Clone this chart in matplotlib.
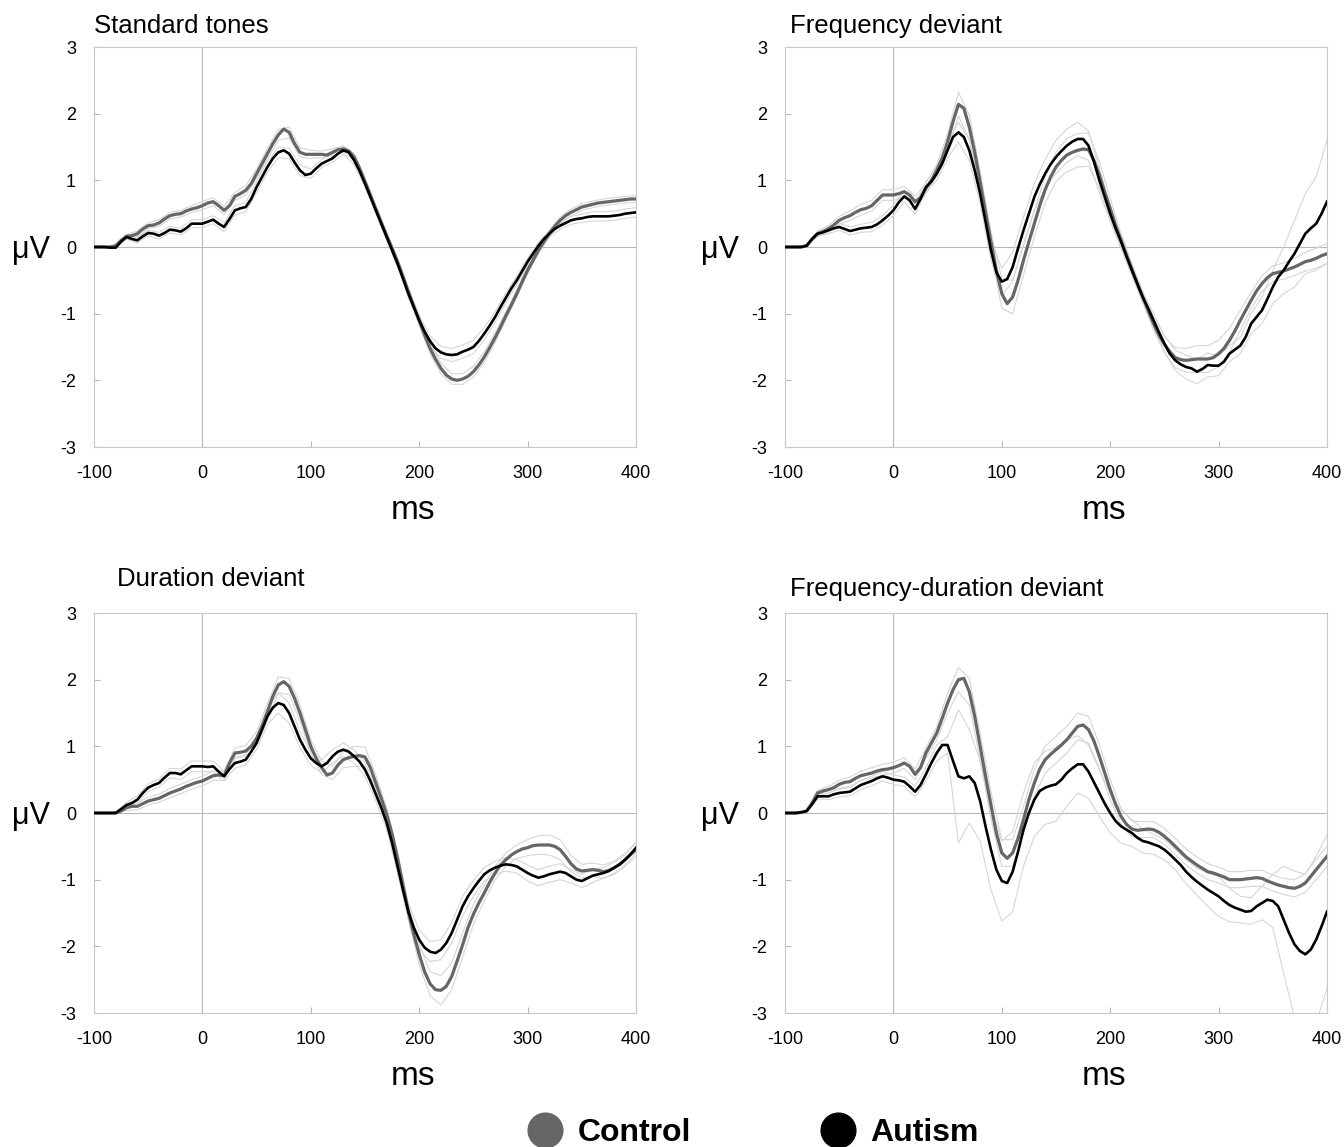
import numpy as np
import matplotlib.pyplot as plt
from matplotlib.lines import Line2D

plt.rcParams['font.family'] = ['Liberation Sans', 'DejaVu Sans']
plt.rcParams['axes.unicode_minus'] = False

# time axis (ms): means every 5 ms, standard errors every 10 ms
t = np.arange(-100, 401, 5)
t_se = np.arange(-100, 401, 10)

# --- Standard tones (rows of 50 ms)
std_control = [0, 0, 0, 0, 0.02, 0.1, 0.16, 0.17, 0.2, 0.27,
               0.32, 0.33, 0.36, 0.42, 0.47, 0.49, 0.5, 0.54, 0.57, 0.59,
               0.62, 0.66, 0.68, 0.62, 0.55, 0.62, 0.76, 0.8, 0.85, 0.95,
               1.1, 1.25, 1.4, 1.55, 1.68, 1.77, 1.72, 1.55, 1.42, 1.39,
               1.39, 1.39, 1.39, 1.38, 1.42, 1.46, 1.47, 1.44, 1.35, 1.18,
               0.98, 0.78, 0.57, 0.37, 0.17, -0.02, -0.22, -0.44, -0.67, -0.89,
               -1.1, -1.32, -1.52, -1.68, -1.82, -1.92, -1.98, -2.0, -1.98, -1.94,
               -1.87, -1.77, -1.65, -1.51, -1.36, -1.2, -1.03, -0.87, -0.7, -0.52,
               -0.35, -0.2, -0.05, 0.08, 0.2, 0.31, 0.4, 0.47, 0.52, 0.56,
               0.6, 0.62, 0.64, 0.66, 0.67, 0.68, 0.69, 0.7, 0.71, 0.72,
               0.72]
std_control_se = [0, 0, 0, 0.03, 0.04, 0.04, 0.05, 0.05, 0.05, 0.05,
                  0.06, 0.06, 0.06, 0.06, 0.07, 0.07, 0.08, 0.08, 0.08, 0.07,
                  0.06, 0.05, 0.05, 0.05, 0.05, 0.05, 0.05, 0.05, 0.05, 0.06,
                  0.07, 0.08, 0.08, 0.08, 0.08, 0.08, 0.08, 0.07, 0.06, 0.05,
                  0.05, 0.05, 0.05, 0.05, 0.05, 0.05, 0.05, 0.05, 0.05, 0.05, 0.05]
std_autism = [0, 0, 0, -0.01, -0.01, 0.08, 0.15, 0.12, 0.1, 0.16,
              0.21, 0.2, 0.17, 0.21, 0.26, 0.25, 0.23, 0.28, 0.35, 0.35,
              0.35, 0.38, 0.41, 0.35, 0.3, 0.42, 0.55, 0.58, 0.6, 0.72,
              0.9, 1.05, 1.2, 1.33, 1.42, 1.45, 1.4, 1.27, 1.15, 1.08,
              1.1, 1.18, 1.25, 1.29, 1.33, 1.4, 1.45, 1.42, 1.3, 1.14,
              0.95, 0.75, 0.55, 0.35, 0.15, -0.05, -0.25, -0.47, -0.7, -0.9,
              -1.1, -1.27, -1.41, -1.52, -1.58, -1.61, -1.62, -1.61, -1.57, -1.54,
              -1.5, -1.41, -1.3, -1.18, -1.05, -0.9, -0.76, -0.62, -0.5, -0.36,
              -0.22, -0.1, 0.02, 0.12, 0.2, 0.27, 0.32, 0.36, 0.4, 0.42,
              0.43, 0.45, 0.46, 0.46, 0.46, 0.46, 0.47, 0.48, 0.5, 0.51,
              0.52]
std_autism_se = [0, 0, 0, 0.03, 0.04, 0.04, 0.05, 0.05, 0.05, 0.06,
                 0.06, 0.06, 0.07, 0.07, 0.07, 0.08, 0.08, 0.08, 0.08, 0.08,
                 0.07, 0.06, 0.06, 0.06, 0.06, 0.05, 0.05, 0.05, 0.05, 0.06,
                 0.07, 0.08, 0.09, 0.1, 0.1, 0.1, 0.09, 0.08, 0.07, 0.06,
                 0.05, 0.05, 0.05, 0.05, 0.06, 0.06, 0.07, 0.07, 0.07, 0.07, 0.07]

# --- Frequency deviant
freq_control = [0, 0, 0, 0, 0.02, 0.12, 0.2, 0.23, 0.27, 0.33,
                0.4, 0.44, 0.47, 0.52, 0.56, 0.58, 0.62, 0.7, 0.78, 0.78,
                0.78, 0.8, 0.83, 0.78, 0.68, 0.74, 0.88, 1.0, 1.15, 1.33,
                1.58, 1.88, 2.14, 2.08, 1.8, 1.42, 0.98, 0.52, 0.08, -0.35,
                -0.7, -0.85, -0.75, -0.5, -0.2, 0.08, 0.35, 0.62, 0.86, 1.05,
                1.2, 1.3, 1.38, 1.42, 1.45, 1.47, 1.46, 1.3, 1.08, 0.82,
                0.58, 0.32, 0.1, -0.12, -0.33, -0.55, -0.75, -0.95, -1.15, -1.32,
                -1.46, -1.57, -1.66, -1.69, -1.7, -1.69, -1.68, -1.68, -1.68, -1.66,
                -1.6, -1.52, -1.4, -1.26, -1.1, -0.95, -0.8, -0.66, -0.55, -0.46,
                -0.4, -0.38, -0.36, -0.33, -0.3, -0.26, -0.22, -0.2, -0.17, -0.13,
                -0.1]
freq_control_se = [0, 0, 0, 0.04, 0.05, 0.06, 0.07, 0.08, 0.08, 0.08,
                   0.08, 0.08, 0.08, 0.08, 0.09, 0.12, 0.18, 0.18, 0.15, 0.15,
                   0.22, 0.25, 0.22, 0.2, 0.2, 0.22, 0.25, 0.25, 0.25, 0.2,
                   0.15, 0.1, 0.08, 0.08, 0.1, 0.12, 0.15, 0.18, 0.2, 0.2,
                   0.2, 0.18, 0.15, 0.12, 0.12, 0.12, 0.12, 0.13, 0.14, 0.15, 0.15]
freq_autism = [0, 0, 0, 0, 0.02, 0.12, 0.2, 0.22, 0.25, 0.28,
               0.3, 0.27, 0.24, 0.26, 0.28, 0.29, 0.3, 0.34, 0.4, 0.47,
               0.55, 0.67, 0.76, 0.7, 0.57, 0.72, 0.9, 0.98, 1.1, 1.25,
               1.45, 1.65, 1.72, 1.65, 1.45, 1.15, 0.8, 0.38, -0.05, -0.38,
               -0.52, -0.48, -0.3, -0.02, 0.25, 0.5, 0.75, 0.94, 1.1, 1.24,
               1.35, 1.44, 1.52, 1.58, 1.62, 1.62, 1.52, 1.28, 1.0, 0.75,
               0.5, 0.28, 0.08, -0.14, -0.35, -0.55, -0.75, -0.92, -1.1, -1.28,
               -1.45, -1.6, -1.7, -1.76, -1.8, -1.82, -1.87, -1.83, -1.77, -1.78,
               -1.78, -1.72, -1.6, -1.54, -1.48, -1.35, -1.15, -1.05, -0.95, -0.78,
               -0.6, -0.45, -0.35, -0.22, -0.1, 0.05, 0.2, 0.28, 0.35, 0.5,
               0.68]
freq_autism_se = [0, 0, 0, 0.04, 0.05, 0.05, 0.06, 0.06, 0.07, 0.07,
                  0.08, 0.08, 0.08, 0.08, 0.1, 0.12, 0.15, 0.15, 0.15, 0.15,
                  0.2, 0.22, 0.2, 0.2, 0.22, 0.25, 0.25, 0.25, 0.22, 0.18,
                  0.12, 0.1, 0.08, 0.08, 0.1, 0.12, 0.15, 0.18, 0.18, 0.18,
                  0.15, 0.12, 0.12, 0.15, 0.2, 0.25, 0.35, 0.5, 0.6, 0.7, 0.92]

# --- Duration deviant
dur_control = [0, 0, 0, 0, 0, 0.03, 0.08, 0.1, 0.1, 0.14,
               0.18, 0.2, 0.22, 0.26, 0.3, 0.33, 0.36, 0.4, 0.43, 0.46,
               0.48, 0.52, 0.56, 0.57, 0.56, 0.75, 0.9, 0.91, 0.93, 1.0,
               1.12, 1.3, 1.52, 1.75, 1.92, 1.97, 1.9, 1.72, 1.5, 1.25,
               1.0, 0.82, 0.68, 0.57, 0.6, 0.72, 0.8, 0.83, 0.85, 0.86,
               0.84, 0.68, 0.45, 0.22, -0.02, -0.32, -0.68, -1.08, -1.48, -1.82,
               -2.12, -2.38, -2.56, -2.65, -2.66, -2.6, -2.45, -2.22, -1.98, -1.72,
               -1.52, -1.35, -1.2, -1.04, -0.9, -0.78, -0.7, -0.63, -0.58, -0.54,
               -0.52, -0.49, -0.48, -0.48, -0.48, -0.5, -0.55, -0.65, -0.76, -0.84,
               -0.87, -0.86, -0.85, -0.86, -0.88, -0.86, -0.82, -0.77, -0.7, -0.62,
               -0.55]
dur_control_se = [0, 0, 0, 0.04, 0.05, 0.06, 0.06, 0.07, 0.07, 0.07,
                  0.07, 0.07, 0.07, 0.08, 0.08, 0.1, 0.12, 0.12, 0.12, 0.12,
                  0.1, 0.1, 0.1, 0.12, 0.15, 0.15, 0.12, 0.1, 0.1, 0.12,
                  0.15, 0.18, 0.22, 0.2, 0.18, 0.15, 0.12, 0.1, 0.1, 0.1,
                  0.12, 0.14, 0.15, 0.15, 0.12, 0.1, 0.1, 0.1, 0.1, 0.1, 0.1]
dur_autism = [0, 0, 0, 0, 0, 0.06, 0.12, 0.15, 0.2, 0.3,
              0.38, 0.42, 0.45, 0.53, 0.6, 0.6, 0.58, 0.64, 0.7, 0.7,
              0.7, 0.69, 0.7, 0.62, 0.55, 0.66, 0.75, 0.77, 0.8, 0.92,
              1.05, 1.25, 1.45, 1.58, 1.65, 1.62, 1.5, 1.3, 1.1, 0.95,
              0.82, 0.75, 0.7, 0.75, 0.85, 0.92, 0.95, 0.92, 0.85, 0.77,
              0.65, 0.48, 0.28, 0.08, -0.15, -0.45, -0.8, -1.15, -1.48, -1.72,
              -1.9, -2.02, -2.08, -2.1, -2.05, -1.95, -1.8, -1.6, -1.4, -1.25,
              -1.13, -1.02, -0.92, -0.86, -0.82, -0.79, -0.77, -0.78, -0.8, -0.85,
              -0.9, -0.94, -0.97, -0.95, -0.92, -0.9, -0.88, -0.9, -0.95, -1.0,
              -1.02, -0.98, -0.94, -0.92, -0.9, -0.87, -0.82, -0.77, -0.7, -0.62,
              -0.52]
dur_autism_se = [0, 0, 0, 0.04, 0.05, 0.06, 0.06, 0.07, 0.08, 0.08,
                 0.08, 0.08, 0.07, 0.08, 0.08, 0.1, 0.12, 0.15, 0.15, 0.12,
                 0.1, 0.1, 0.1, 0.1, 0.1, 0.1, 0.1, 0.1, 0.1, 0.12,
                 0.14, 0.15, 0.15, 0.15, 0.15, 0.12, 0.1, 0.1, 0.1, 0.1,
                 0.12, 0.12, 0.12, 0.12, 0.1, 0.1, 0.1, 0.08, 0.08, 0.08, 0.08]

# --- Frequency-duration deviant
fd_control = [0, 0, 0, 0.01, 0.03, 0.15, 0.3, 0.33, 0.35, 0.38,
              0.43, 0.46, 0.47, 0.52, 0.56, 0.58, 0.6, 0.63, 0.65, 0.66,
              0.68, 0.71, 0.75, 0.7, 0.58, 0.68, 0.9, 1.05, 1.2, 1.42,
              1.65, 1.85, 2.0, 2.02, 1.82, 1.45, 1.0, 0.55, 0.12, -0.3,
              -0.6, -0.68, -0.6, -0.38, -0.1, 0.2, 0.45, 0.66, 0.8, 0.88,
              0.95, 1.02, 1.1, 1.2, 1.3, 1.32, 1.25, 1.08, 0.85, 0.6,
              0.35, 0.13, -0.05, -0.17, -0.24, -0.26, -0.25, -0.24, -0.25, -0.29,
              -0.35, -0.42, -0.5, -0.58, -0.66, -0.72, -0.78, -0.83, -0.88, -0.9,
              -0.93, -0.96, -1.0, -1.0, -1.0, -0.99, -0.98, -0.97, -0.98, -1.02,
              -1.05, -1.08, -1.1, -1.12, -1.13, -1.1, -1.05, -0.95, -0.85, -0.75,
              -0.65]
fd_control_se = [0, 0, 0, 0.04, 0.05, 0.06, 0.07, 0.07, 0.08, 0.08,
                 0.08, 0.08, 0.08, 0.08, 0.1, 0.15, 0.18, 0.2, 0.2, 0.2,
                 0.2, 0.2, 0.2, 0.2, 0.2, 0.2, 0.2, 0.2, 0.2, 0.18,
                 0.15, 0.12, 0.12, 0.12, 0.12, 0.12, 0.12, 0.12, 0.12, 0.12,
                 0.12, 0.12, 0.12, 0.12, 0.12, 0.12, 0.12, 0.13, 0.14, 0.15, 0.15]
fd_autism = [0, 0, 0, 0.01, 0.03, 0.13, 0.25, 0.25, 0.25, 0.28,
             0.3, 0.31, 0.32, 0.37, 0.42, 0.45, 0.48, 0.52, 0.55, 0.53,
             0.5, 0.49, 0.47, 0.4, 0.32, 0.42, 0.58, 0.75, 0.9, 1.02,
             1.02, 0.78, 0.55, 0.52, 0.55, 0.45, 0.18, -0.2, -0.55, -0.85,
             -1.02, -1.05, -0.88, -0.58, -0.25, 0.0, 0.2, 0.33, 0.38, 0.41,
             0.43, 0.5, 0.6, 0.67, 0.73, 0.73, 0.62, 0.46, 0.3, 0.14,
             0.0, -0.12, -0.2, -0.25, -0.3, -0.37, -0.42, -0.44, -0.47, -0.5,
             -0.55, -0.62, -0.7, -0.78, -0.88, -0.96, -1.03, -1.09, -1.15, -1.2,
             -1.25, -1.32, -1.38, -1.42, -1.45, -1.48, -1.47, -1.4, -1.35, -1.3,
             -1.32, -1.4, -1.6, -1.8, -1.97, -2.07, -2.12, -2.05, -1.9, -1.7,
             -1.48]
fd_autism_se = [0, 0, 0, 0.04, 0.05, 0.06, 0.06, 0.07, 0.07, 0.07,
                0.07, 0.07, 0.08, 0.1, 0.12, 0.12, 1.0, 0.7, 0.6, 0.6,
                0.6, 0.6, 0.55, 0.55, 0.55, 0.55, 0.5, 0.43, 0.4, 0.35,
                0.3, 0.25, 0.2, 0.18, 0.15, 0.15, 0.15, 0.18, 0.2, 0.25,
                0.3, 0.25, 0.2, 0.2, 0.25, 0.4, 0.8, 1.1, 1.2, 1.25, 1.15]

x_ticks = [-100, 0, 100, 200, 300, 400]
y_ticks = [-3, -2, -1, 0, 1, 2, 3]

CONTROL_COL = '#666666'
AUTISM_COL = '#000000'
SE_COL = '#d6d6d6'
AX_COL = '#b8b8b8'


def panel(ax, ctrl, ctrl_se, aut, aut_se, title, title_x, title_y, muv_x):
    ctrl, aut = np.array(ctrl), np.array(aut)

    ax.axhline(0, color=AX_COL, lw=0.8, zorder=1)
    ax.axvline(0, color=AX_COL, lw=0.8, zorder=1)

    # thin lines = mean +/- standard error (on the 10 ms samples)
    for m, s in [(ctrl, ctrl_se), (aut, aut_se)]:
        m10 = m[::2]
        s = np.array(s)
        ax.plot(t_se, m10 + s, color=SE_COL, lw=0.8, zorder=2)
        ax.plot(t_se, m10 - s, color=SE_COL, lw=0.8, zorder=2)

    ax.plot(t, ctrl, color=CONTROL_COL, lw=2.3, zorder=3, solid_joinstyle='round')
    ax.plot(t, aut, color=AUTISM_COL, lw=1.9, zorder=4, solid_joinstyle='round')

    ax.set_xlim(-100, 400)
    ax.set_ylim(-3, 3)
    ax.set_xticks(x_ticks)
    ax.set_yticks(y_ticks)
    ax.tick_params(direction='in', length=4, color=AX_COL, labelsize=13, pad=13)
    for sp in ax.spines.values():
        sp.set_color('#c8c8c8')
        sp.set_linewidth(0.8)

    ax.text(title_x, title_y, title, transform=ax.transAxes, fontsize=18.5,
            ha='left', va='baseline')
    ax.text(muv_x, 0.4725, 'μV', transform=ax.transAxes, fontsize=22,
            ha='center', va='baseline')
    ax.text(0.588, -0.18, 'ms', transform=ax.transAxes, fontsize=24,
            ha='center', va='baseline')


fig = plt.figure(figsize=(13.44, 11.47), dpi=100)
W, H = 1344, 1147


def box(left, top):
    return [left / W, 1 - (top + 400) / H, 542 / W, 400 / H]


ax1 = fig.add_axes(box(94, 47))
ax2 = fig.add_axes(box(785, 47))
ax3 = fig.add_axes(box(94, 613))
ax4 = fig.add_axes(box(785, 613))

panel(ax1, std_control, std_control_se, std_autism, std_autism_se,
      'Standard tones', 0.0, 1.035, -0.116)
panel(ax2, freq_control, freq_control_se, freq_autism, freq_autism_se,
      'Frequency deviant', 0.009, 1.035, -0.12)
panel(ax3, dur_control, dur_control_se, dur_autism, dur_autism_se,
      'Duration deviant', 0.042, 1.0675, -0.116)
panel(ax4, fd_control, fd_control_se, fd_autism, fd_autism_se,
      'Frequency-duration deviant', 0.009, 1.0425, -0.12)

# legend at the bottom
for cx, tx, col, lab in [(545, 578, CONTROL_COL, 'Control'),
                         (838, 870, AUTISM_COL, 'Autism')]:
    fig.add_artist(Line2D([cx / W], [1 - 1130 / H], marker='o', markersize=25,
                          color=col, linestyle='none', transform=fig.transFigure))
    fig.text(tx / W, 1 - 1141 / H, lab, fontsize=23, fontweight='bold',
             ha='left', va='baseline')

fig.savefig('out.png', dpi=100)
